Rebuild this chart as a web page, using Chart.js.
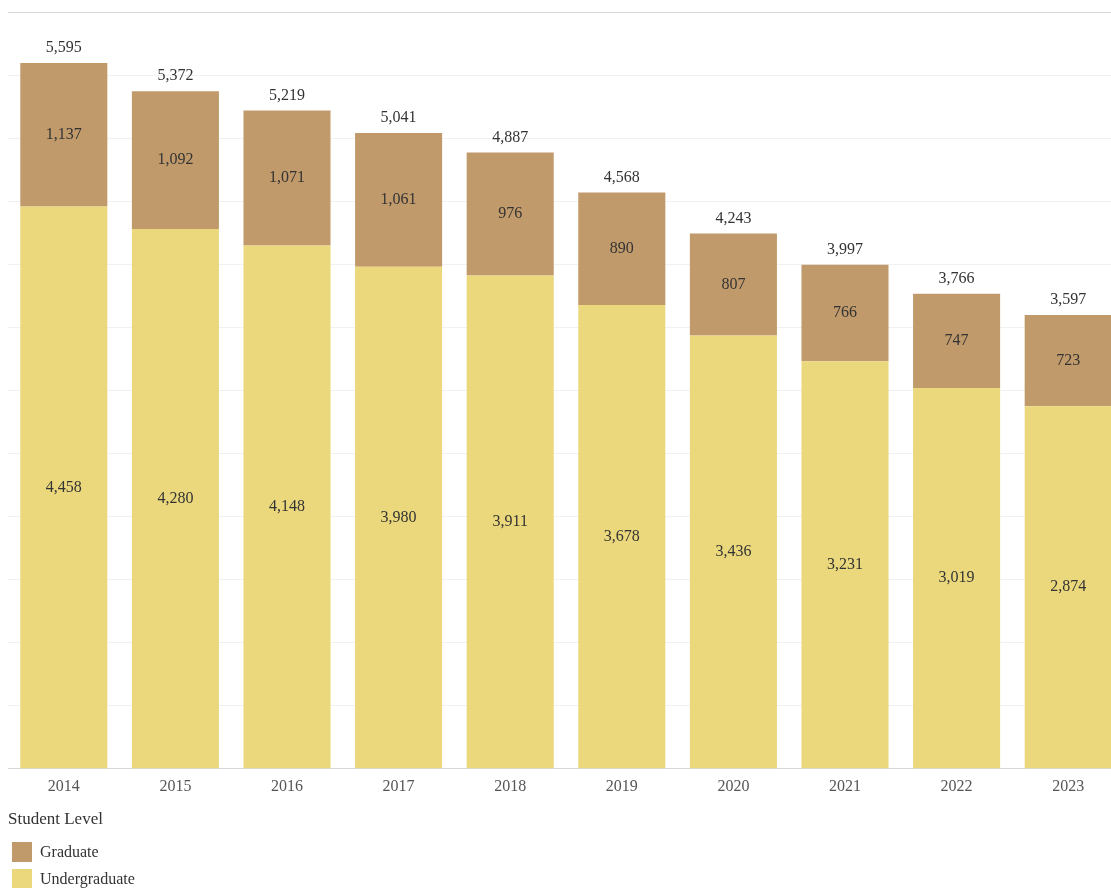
<!DOCTYPE html>
<html>
<head>
<meta charset="utf-8">
<script src="https://cdn.jsdelivr.net/npm/chart.js@4/dist/chart.umd.min.js"></script>
<style>
  html, body { margin: 0; padding: 0; background: #fff; overflow: hidden; width: 1111px; height: 888px; }
  #wrap { position: absolute; left: 0; top: 0; width: 1130px; height: 811px; }
  #legend { position: absolute; left: 8px; top: 808px; font-family: "Liberation Serif", "Times New Roman", serif; color: #333; }
  #legend .title { font-size: 17px; line-height: 22px; margin-bottom: 8px; }
  #legend .item { display: flex; align-items: center; height: 27px; font-size: 16px; }
  #legend .sw { width: 20px; height: 20px; margin-left: 4px; margin-right: 8px; }
</style>
</head>
<body>
<div id="wrap"><canvas id="c"></canvas></div>
<div id="legend"></div>
<script>
const years = ["2014","2015","2016","2017","2018","2019","2020","2021","2022","2023"];
const graduate = [1137, 1092, 1071, 1061, 976, 890, 807, 766, 747, 723];
const undergraduate = [4458, 4280, 4148, 3980, 3911, 3678, 3436, 3231, 3019, 2874];
const legendTitle = "Student Level";
const seriesNames = ["Graduate", "Undergraduate"];
const colors = { Graduate: "#c19a6b", Undergraduate: "#ebd87c" };

const fontFamily = '"Liberation Serif", "Times New Roman", serif';
const fmt = v => v.toLocaleString('en-US');

const labelPlugin = {
  id: 'valueLabels',
  afterDatasetsDraw(chart) {
    const ctx = chart.ctx;
    ctx.save();
    ctx.font = '16px ' + fontFamily;
    ctx.fillStyle = '#333';
    ctx.textAlign = 'center';
    ctx.textBaseline = 'middle';
    chart.data.datasets.forEach((ds, di) => {
      const meta = chart.getDatasetMeta(di);
      meta.data.forEach((bar, i) => {
        const p = bar.getProps(['x', 'y', 'base'], true);
        ctx.fillText(fmt(ds.data[i]), p.x, (p.y + p.base) / 2);
      });
    });
    const topMeta = chart.getDatasetMeta(chart.data.datasets.length - 1);
    topMeta.data.forEach((bar, i) => {
      const total = graduate[i] + undergraduate[i];
      const p = bar.getProps(['x', 'y'], true);
      ctx.fillText(fmt(total), p.x, p.y - 15);
    });
    ctx.restore();
  }
};

new Chart(document.getElementById('c'), {
  type: 'bar',
  data: {
    labels: years,
    datasets: [
      { label: seriesNames[1], data: undergraduate, backgroundColor: colors.Undergraduate, barPercentage: 0.78, categoryPercentage: 1 },
      { label: seriesNames[0], data: graduate, backgroundColor: colors.Graduate, barPercentage: 0.78, categoryPercentage: 1 }
    ]
  },
  options: {
    responsive: true,
    maintainAspectRatio: false,
    animation: false,
    layout: { padding: { left: 8, right: 6, top: 12, bottom: 7 } },
    plugins: { legend: { display: false }, tooltip: { enabled: false } },
    scales: {
      x: {
        stacked: true,
        grid: { display: false, drawTicks: false },
        border: { display: false },
        ticks: { color: '#555', font: { family: fontFamily, size: 16 }, padding: 8, maxRotation: 0 }
      },
      y: {
        stacked: true,
        min: 0, max: 6000,
        ticks: { display: false, stepSize: 500 },
        border: { display: false },
        grid: {
          drawTicks: false,
          color: c => (c.tick && (c.tick.value === 6000 || c.tick.value === 0)) ? '#d8d8d8' : '#f1f1f1',
          lineWidth: 1
        }
      }
    }
  },
  plugins: [labelPlugin]
});

const lg = document.getElementById('legend');
const t = document.createElement('div'); t.className = 'title'; t.textContent = legendTitle; lg.appendChild(t);
seriesNames.forEach(n => {
  const it = document.createElement('div'); it.className = 'item';
  const sw = document.createElement('span'); sw.className = 'sw'; sw.style.background = colors[n];
  const tx = document.createElement('span'); tx.textContent = n;
  it.appendChild(sw); it.appendChild(tx); lg.appendChild(it);
});
</script>
</body>
</html>
